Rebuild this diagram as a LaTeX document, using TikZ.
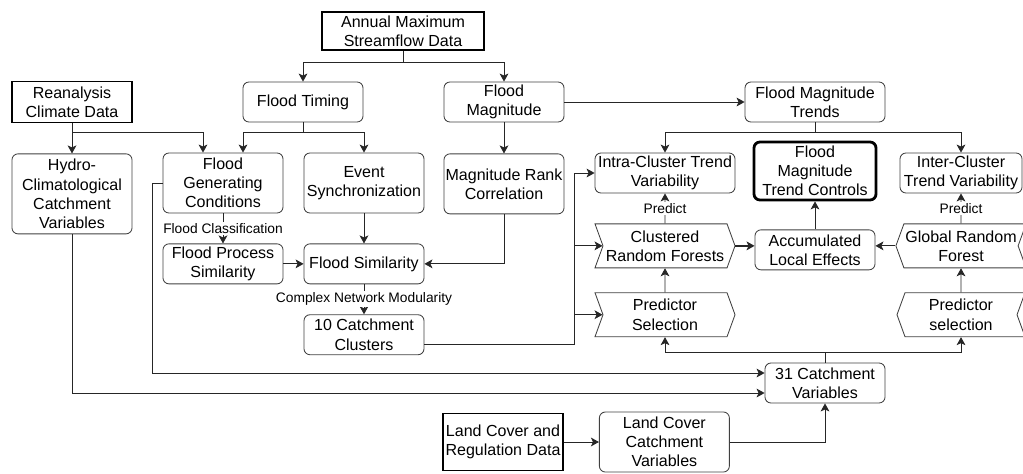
\documentclass[tikz,border=0pt]{standalone}
\usepackage{fontspec}
\setmainfont{Liberation Sans}
\usetikzlibrary{arrows.meta, shapes.symbols, positioning}

\begin{document}
\begin{tikzpicture}[
    x=0.025cm, y=-0.025cm,
    font=\fontsize{11.4}{13.6}\selectfont,
    node distance = 0.75cm,
    proc/.style = {
        rectangle, draw=black!75, rounded corners=0.15cm,
        minimum width=3cm, minimum height=1cm,
        align=center, inner sep=1pt, line width=0.6pt
    },
    source/.style = {
        rectangle, draw=black, minimum width=3cm, minimum height=1cm,
        align=center, inner sep=1pt, line width=1.3pt
    },
    model/.style = {
        signal, draw=black!75, signal pointer angle=140,
        minimum width=3.5cm, minimum height=1.1cm,
        align=center, inner sep=1pt, line width=0.6pt
    },
    arr/.style = {-{Stealth[length=2mm, width=2.2mm, inset=0.5mm]}, line width=0.6pt, draw=black!85},
    lbl/.style = {font=\fontsize{9.8}{11}\selectfont, fill=white, inner sep=1pt},
]
\useasboundingbox (0,0) rectangle (1023,473);

% data sources and first row
\node[source, minimum width=4.05cm, minimum height=0.95cm] (ams) at (403,31) {Annual Maximum\\Streamflow Data};
\node[source, minimum height=1.025cm] (rean) at (72,102) {Reanalysis\\Climate Data};
\node[proc] (timing) at (303,102) {Flood Timing};
\node[proc] (mag) at (504,102) {Flood\\Magnitude};
\node[proc, minimum width=3.5cm] (trends) at (815,102) {Flood Magnitude\\Trends};

% similarity branch
\node[proc, minimum height=2cm, below=of rean] (hydro) {Hydro-\\Climatological\\Catchment\\Variables};
\node[proc, minimum height=1.5cm] (fgc) at (223,183) {Flood\\Generating\\Conditions};
\node[proc, below=of fgc] (fps) {Flood Process\\Similarity};
\node[proc, minimum height=1.5cm] (sync) at (364,183) {Event\\Synchronization};
\node[proc, below=of sync] (fsim) {Flood Similarity};
\node[proc, below=of fsim] (clusters) {10 Catchment\\Clusters};
\node[proc, minimum height=1.5cm, below=0.775cm of mag] (rank) {Magnitude Rank\\Correlation};

% trend branch
\node[proc, minimum width=3.5cm] (intra) at (665,173) {Intra-Cluster Trend\\Variability};
\node[model, signal to=east, signal from=west, below=of intra] (crf) {Clustered\\Random Forests};
\node[model, signal to=east, signal from=west, below=0.6cm of crf] (psel) {Predictor\\Selection};
\node[proc, draw=black, line width=2pt, minimum width=3.05cm, minimum height=1.45cm] (controls) at (815,171) {Flood\\Magnitude\\Trend Controls};
\node[proc, below=0.7cm of controls] (ale) {Accumulated\\Local Effects};
\node[proc, minimum width=3.05cm] (inter) at (961,173) {Inter-Cluster\\Trend Variability};
\node[model, signal to=west, signal from=east, minimum width=3.2cm, below=of inter] (grf) {Global Random\\Forest};
\node[model, signal to=west, signal from=east, minimum width=3.2cm, below=0.6cm of grf] (gsel) {Predictor\\selection};

% catchment variables
\node[proc] (vars) at (825,383) {31 Catchment\\Variables};
\node[source, minimum height=1.425cm] (land) at (503,442) {Land Cover and\\Regulation Data};
\node[proc, minimum width=3.25cm, minimum height=1.5cm, right=0.875cm of land] (lcv) {Land Cover\\Catchment\\Variables};

\draw[arr] (ams.south) -- ++(0,12) -| (timing);
\draw[arr] (ams.south) -- ++(0,12) -| (mag);
\draw[arr] (rean) -- (hydro);
\draw[arr] (rean.south) -- ++(0,9) -| ([xshift=-0.5cm]fgc.north);
\draw[arr] (timing.south) -- ++(0,10) -| ([xshift=0.5cm]fgc.north);
\draw[arr] (timing.south) -- ++(0,10) -| (sync);
\draw[arr] (mag) -- (rank);
\draw[arr] (mag) -- (trends);
\draw[arr] (trends.south) -- ++(0,10) -| (intra);
\draw[arr] (trends.south) -- ++(0,10) -| (inter);

\draw[arr] (fgc) -- node[lbl]{Flood Classification} (fps);
\draw[arr] (fps) -- (fsim);
\draw[arr] (sync) -- (fsim);
\draw[arr] (rank.south) |- (fsim.east);
\draw[arr] (fsim) -- node[lbl]{Complex Network Modularity} (clusters);

\draw[arr] ([yshift=-0.25cm]clusters.east) -- ++(150,0) |- (intra.west);
\draw[arr] ([yshift=-0.25cm]clusters.east) -- ++(150,0) |- (crf.west);
\draw[arr] ([yshift=-0.25cm]clusters.east) -- ++(150,0) |- (psel.west);
\draw[arr] (crf) -- node[lbl]{Predict} (intra);
\draw[arr] (psel) -- (crf);
\draw[arr, line width=1.1pt] (crf.east) -- (crf.east -| ale.west);
\draw[arr] (ale) -- (controls);
\draw[arr] (grf.west) -- (grf.west -| ale.east);
\draw[arr] (grf) -- node[lbl]{Predict} (inter);
\draw[arr] (gsel) -- (grf);

\draw[arr] (vars.north) -- ++(0,-10) -| (psel);
\draw[arr] (vars.north) -- ++(0,-10) -| (gsel);
\draw[arr] (fgc.west) -- ++(-10,0) |- ([yshift=0.25cm]vars.west);
\draw[arr] (hydro.south) |- ([yshift=-0.25cm]vars.west);
\draw[arr] (land) -- (lcv);
\draw[arr] (lcv.east) -| (vars.south);

\end{tikzpicture}
\end{document}
